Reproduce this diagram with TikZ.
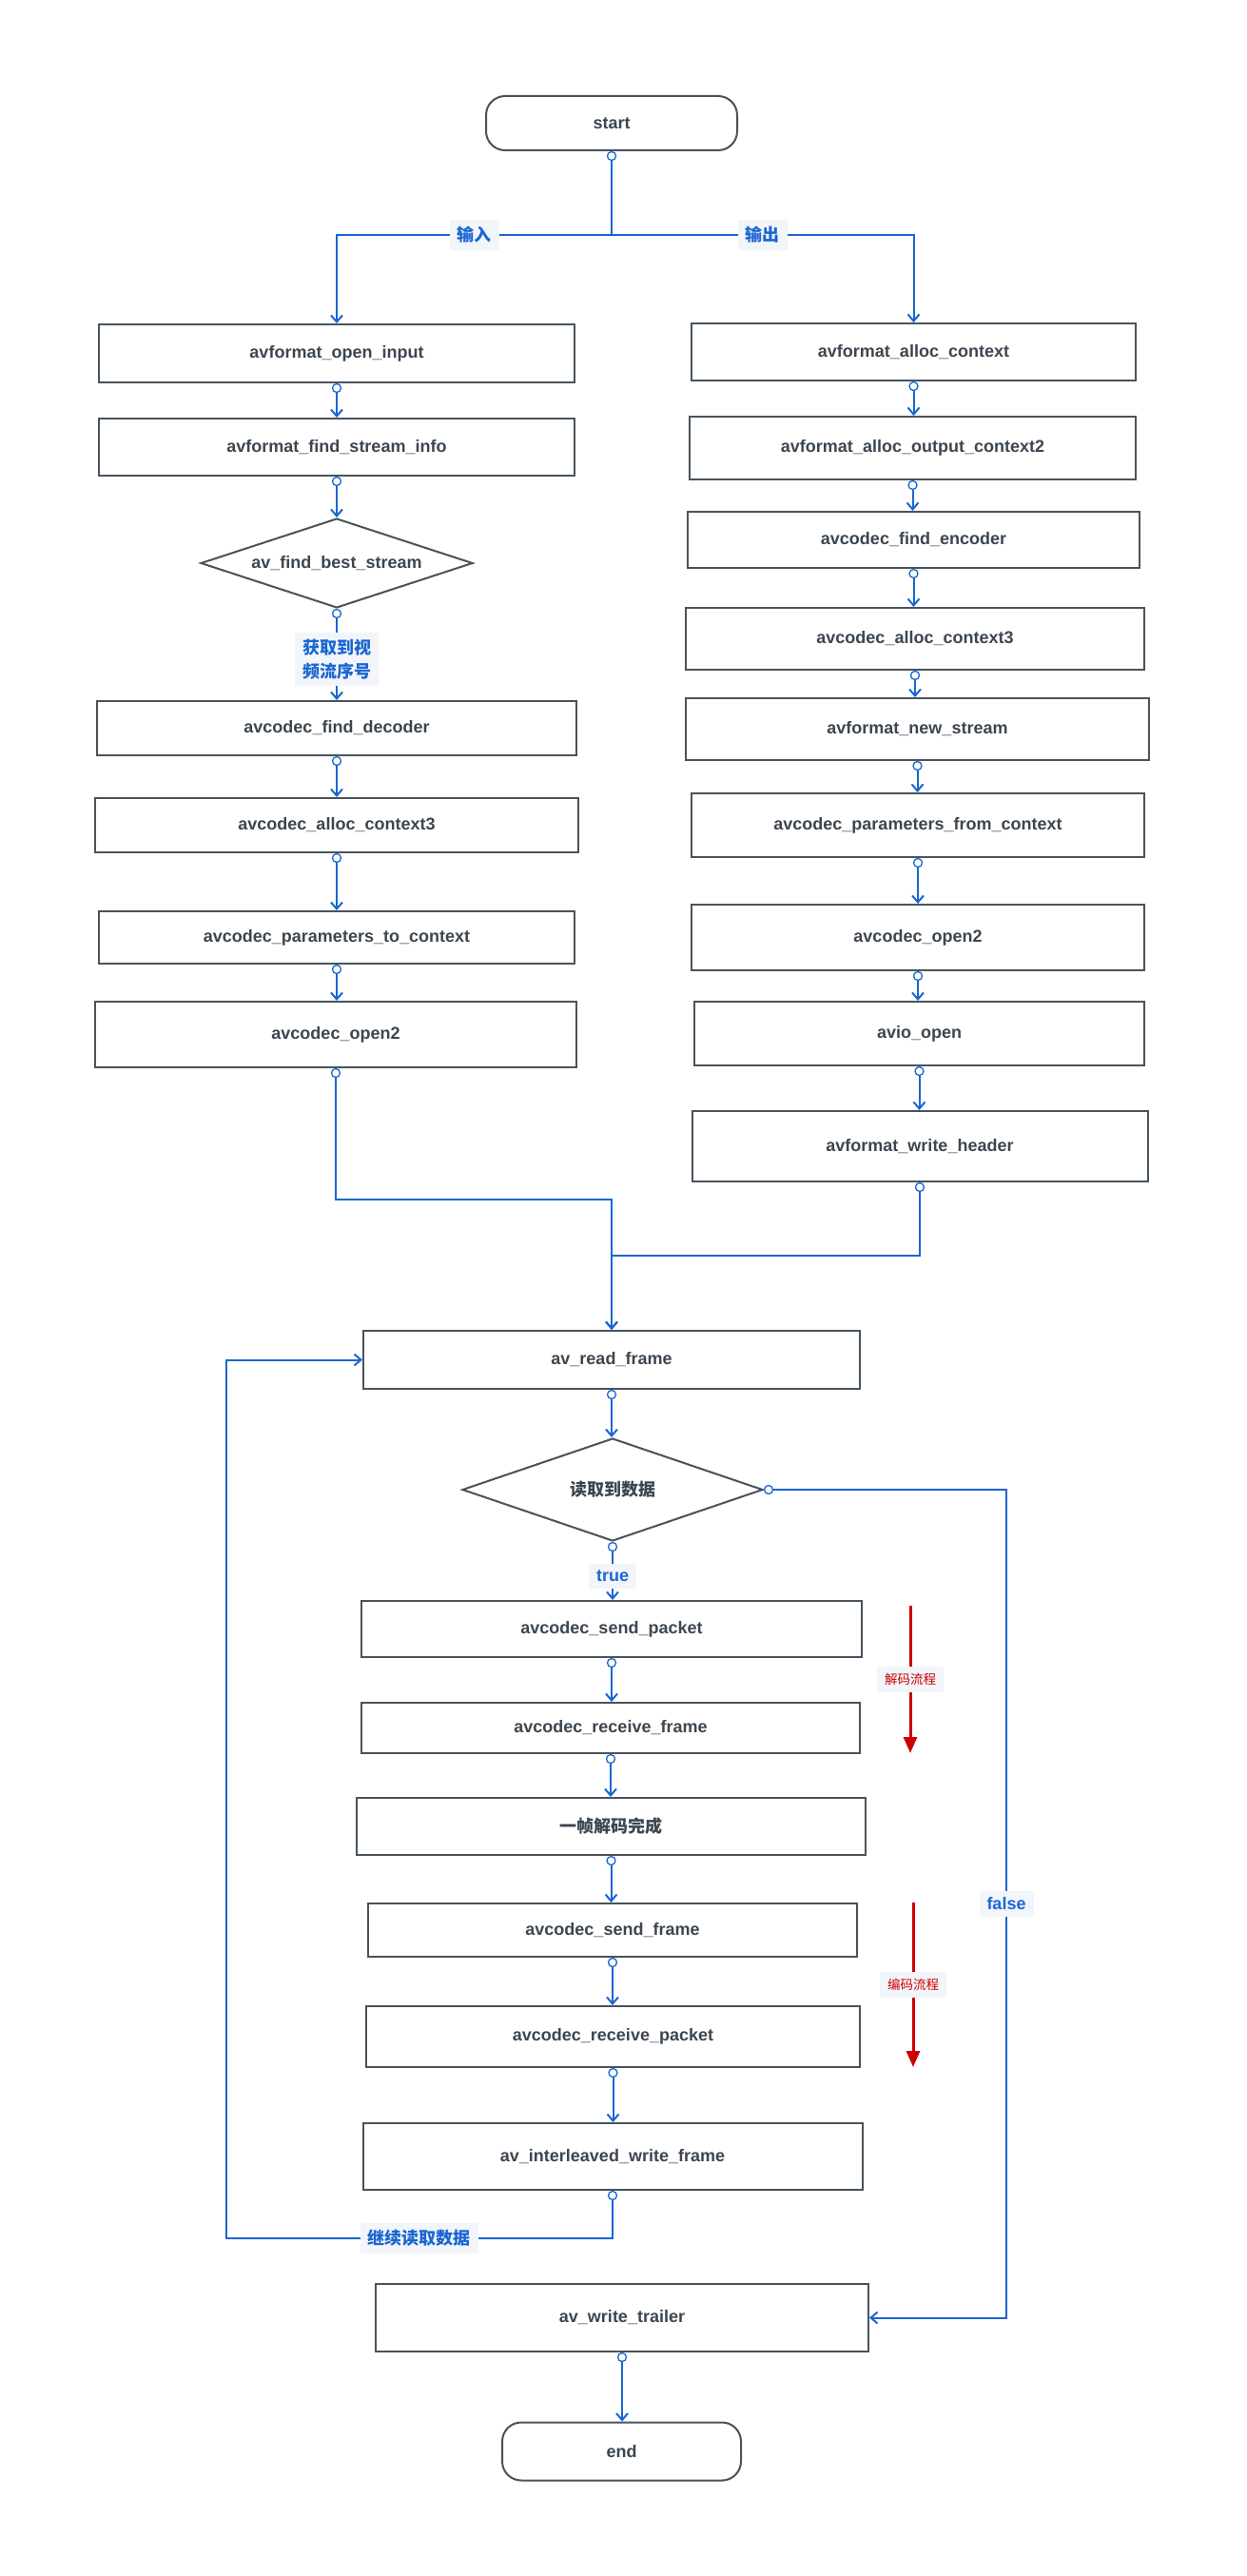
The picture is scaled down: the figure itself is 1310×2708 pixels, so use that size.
\documentclass[tikz,border=0pt]{standalone}
\usepackage{fontspec}
\setmainfont{Liberation Sans}
\newfontfamily\cjk{Noto Sans CJK SC}
\usetikzlibrary{arrows.meta,shapes.geometric,calc}
\definecolor{bd}{HTML}{48535C}
\definecolor{tx}{HTML}{3C4650}
\definecolor{bl}{HTML}{1A66D2}
\definecolor{lb}{HTML}{F2F5FA}
\definecolor{rd}{HTML}{CC0000}
\tikzset{
 base/.style={draw=bd, line width=2pt, text=tx, font=\fontsize{18}{22}\selectfont\bfseries, inner sep=0pt, fill=white},
 box/.style={base, rectangle},
 term/.style={base, rectangle, rounded corners=20pt},
 dia/.style={base, diamond},
 conn/.style={draw=bl, line width=2pt, -{Straight Barb[length=7pt,width=12pt,line width=2pt]}},
 dot/.style={circle, draw=bl, fill=white, line width=1.3pt, minimum size=9pt, inner sep=0pt},
 lbl/.style={fill=lb, text=bl, font=\fontsize{18}{25}\selectfont\bfseries, inner xsep=8pt, inner ysep=7pt, align=center},
 rlbl/.style={fill=lb, text=rd, font=\cjk\fontsize{13.5}{16}\selectfont, inner xsep=8pt, inner ysep=7pt},
 rarr/.style={draw=rd, line width=3pt, -{Triangle[length=17pt,width=14pt]}},
}
\newcommand\vcon[2]{\node[dot] (d#1) at ($(#1.south)+(0,5)$) {};
  \draw[conn] (d#1.south) -- (d#1.south |- #2.north);}
\begin{document}
\begin{tikzpicture}[x=1pt,y=-1pt]
\fill[white] (0,0) rectangle (1310,2708);
\useasboundingbox (0,0) rectangle (1310,2708);
% terminals
\node[term, minimum width=264pt, minimum height=57pt] (start) at (643,129.5) {start};
\node[term, minimum width=251pt, minimum height=61pt] (end) at (653.5,2577) {end};
% left column
\node[box, minimum width=500pt, minimum height=61pt] (oi) at (354,371.5) {avformat\_open\_input};
\node[box, minimum width=500pt, minimum height=60pt] (fsi) at (354,470) {avformat\_find\_stream\_info};
\node[dia, aspect=3.04, minimum width=286pt, minimum height=94pt] (fbs) at (354,592) {av\_find\_best\_stream};
\node[box, minimum width=504pt, minimum height=57pt] (fd) at (354,765.5) {avcodec\_find\_decoder};
\node[box, minimum width=508pt, minimum height=57pt] (acl) at (354,867.5) {avcodec\_alloc\_context3};
\node[box, minimum width=500pt, minimum height=55pt] (ptc) at (354,985.5) {avcodec\_parameters\_to\_context};
\node[box, minimum width=506pt, minimum height=69pt] (opl) at (353,1087.5) {avcodec\_open2};
% right column
\node[box, minimum width=467pt, minimum height=60pt] (ac) at (960.5,370) {avformat\_alloc\_context};
\node[box, minimum width=469pt, minimum height=66pt] (aoc) at (959.5,471) {avformat\_alloc\_output\_context2};
\node[box, minimum width=475pt, minimum height=59pt] (fe) at (960.5,567.5) {avcodec\_find\_encoder};
\node[box, minimum width=482pt, minimum height=65pt] (acr) at (962,671.5) {avcodec\_alloc\_context3};
\node[box, minimum width=487pt, minimum height=65pt] (ns) at (964.5,766.5) {avformat\_new\_stream};
\node[box, minimum width=476pt, minimum height=67pt] (pfc) at (965,867.5) {avcodec\_parameters\_from\_context};
\node[box, minimum width=476pt, minimum height=69pt] (opr) at (965,985.5) {avcodec\_open2};
\node[box, minimum width=473pt, minimum height=67pt] (aio) at (966.5,1086.5) {avio\_open};
\node[box, minimum width=479pt, minimum height=74pt] (wh) at (967,1205) {avformat\_write\_header};
% middle column
\node[box, minimum width=522pt, minimum height=61pt] (rf) at (643,1429.5) {av\_read\_frame};
\node[dia, aspect=2.93, minimum width=316pt, minimum height=108pt] (rdd) at (644,1566) {\cjk 读取到数据};
\node[box, minimum width=526pt, minimum height=59pt] (sp) at (643,1712.5) {avcodec\_send\_packet};
\node[box, minimum width=524pt, minimum height=53pt] (rfr) at (642,1816.5) {avcodec\_receive\_frame};
\node[box, minimum width=535pt, minimum height=60pt] (yz) at (642.5,1920) {\cjk 一帧解码完成};
\node[box, minimum width=514pt, minimum height=56pt] (sf) at (644,2029) {avcodec\_send\_frame};
\node[box, minimum width=519pt, minimum height=64pt] (rp) at (644.5,2141) {avcodec\_receive\_packet};
\node[box, minimum width=525pt, minimum height=70pt] (iwf) at (644,2267) {av\_interleaved\_write\_frame};
\node[box, minimum width=518pt, minimum height=71pt] (tr) at (654,2436.5) {av\_write\_trailer};
% start split
\node[dot] (dstart) at ($(start.south)+(0,5)$) {};
\coordinate (split) at (643,247);
\draw[conn] (dstart.south) -- (split) -| node[lbl,pos=0.25]{\cjk 输入} (oi.north);
\draw[conn] (split) -| node[lbl,pos=0.25]{\cjk 输出} (ac.north);
% left chain
\vcon{oi}{fsi}
\vcon{fsi}{fbs}
\node[dot] (dfbs) at ($(fbs.south)+(0,5)$) {};
\draw[conn] (dfbs.south) -- node[lbl]{\cjk 获取到视\\\cjk 频流序号} (dfbs.south |- fd.north);
\vcon{fd}{acl}
\vcon{acl}{ptc}
\vcon{ptc}{opl}
% right chain
\vcon{ac}{aoc}
\vcon{aoc}{fe}
\vcon{fe}{acr}
\vcon{acr}{ns}
\vcon{ns}{pfc}
\vcon{pfc}{opr}
\vcon{opr}{aio}
\vcon{aio}{wh}
% merge
\node[dot] (dopl) at ($(opl.south)+(0,5)$) {};
\coordinate (m1) at (643,1261);
\draw[conn] (dopl.south) |- (m1) -- (m1 |- rf.north);
\node[dot] (dwh) at ($(wh.south)+(0,5)$) {};
\coordinate (m2) at (643,1320);
\draw[conn] (dwh.south) |- (m2) -- (m2 |- rf.north);
% middle chain
\vcon{rf}{rdd}
\node[dot] (drdd) at ($(rdd.south)+(0,5)$) {};
\draw[conn] (drdd.south) -- node[lbl]{true} (drdd.south |- sp.north);
\vcon{sp}{rfr}
\vcon{rfr}{yz}
\vcon{yz}{sf}
\vcon{sf}{rp}
\vcon{rp}{iwf}
% loop back
\node[dot] (diwf) at ($(iwf.south)+(0,5)$) {};
\coordinate (lp) at (237.5,2353);
\draw[conn] (diwf.south) |- node[lbl,pos=0.75]{\cjk 继续读取数据} (lp) -- (lp |- rf.west) -- (rf.west);
% false branch
\node[dot] (drde) at ($(rdd.east)+(5,0)$) {};
\coordinate (fx) at (1058,1566);
\draw[conn] (drde.east) -- (fx) -- node[lbl]{false} (fx |- tr.east) -- (tr.east);
% trailer to end
\vcon{tr}{end}
% red process arrows
\coordinate (r1a) at (957,1688);
\coordinate (r1b) at (957,1843);
\draw[rarr] (r1a) -- node[rlbl]{解码流程} (r1b);
\coordinate (r2a) at (960,2000);
\coordinate (r2b) at (960,2173);
\draw[rarr] (r2a) -- node[rlbl]{编码流程} (r2b);
\end{tikzpicture}
\end{document}
